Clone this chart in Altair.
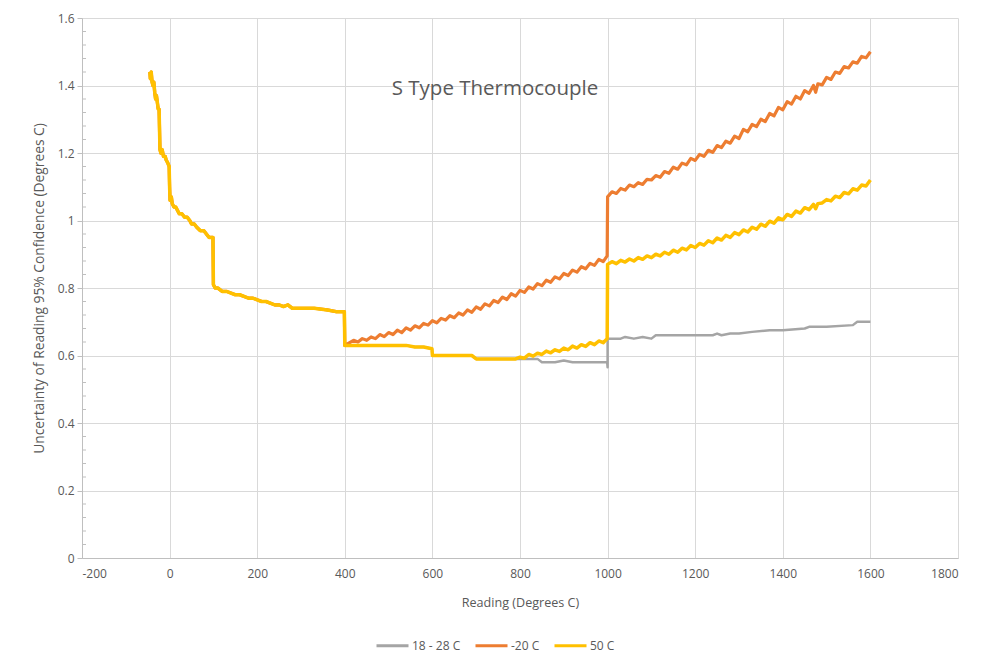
import altair as alt
import pandas as pd

# ---- data ----
series_names = ["18 - 28 C", "-20 C", "50 C"]
series_colors = ["#A5A5A5", "#ED7D31", "#FFC000"]

# 50 C series (full range); the other two coincide with it at low readings
y50_x = [-45, -44, -42, -40, -38, -36, -34, -32, -30, -28, -26, -24, -22, -20, -17, -14, -10, -8, -4, -1,
         0, 1, 4, 6, 10, 14, 18, 22, 28, 34, 40, 46, 50, 56, 62, 70, 78, 84, 90, 99,
         100, 104, 110, 120, 130, 140, 150, 160, 170, 180, 190, 200, 210, 220, 230, 240, 250, 260, 270, 280,
         300, 330, 360, 380, 399, 400, 450, 500, 540, 560, 580, 599, 600, 650, 690, 700, 740, 780,
         790, 800, 810, 820, 830, 840, 850, 860, 870, 880, 890, 900, 910, 920, 930, 940, 950, 960, 970, 980, 990, 999,
         1000, 1010, 1020, 1030, 1040, 1050, 1060, 1070, 1080, 1090, 1100, 1110, 1120, 1130, 1140, 1150, 1160, 1170,
         1180, 1190, 1200, 1210, 1220, 1230, 1240, 1250, 1260, 1270, 1280, 1290, 1300, 1310, 1320, 1330, 1340, 1350,
         1360, 1370, 1380, 1390, 1400, 1410, 1420, 1430, 1440, 1450, 1460, 1470, 1475, 1480, 1490, 1500, 1510, 1520,
         1530, 1540, 1550, 1560, 1570, 1580, 1590, 1600]
y50_v = [1.44, 1.42, 1.44, 1.41, 1.40, 1.41, 1.38, 1.36, 1.37, 1.35, 1.33, 1.33, 1.21, 1.20, 1.21, 1.19, 1.19, 1.18, 1.17, 1.16,
         1.10, 1.06, 1.07, 1.05, 1.04, 1.04, 1.03, 1.02, 1.02, 1.01, 1.01, 1.00, 0.99, 0.99, 0.98, 0.97, 0.97, 0.96, 0.95, 0.95,
         0.81, 0.80, 0.80, 0.79, 0.79, 0.785, 0.78, 0.78, 0.775, 0.77, 0.77, 0.765, 0.76, 0.76, 0.755, 0.75, 0.75, 0.745, 0.75, 0.74,
         0.74, 0.74, 0.735, 0.73, 0.73, 0.63, 0.63, 0.63, 0.63, 0.625, 0.625, 0.62, 0.60, 0.60, 0.60, 0.59, 0.59, 0.59,
         0.59, 0.595, 0.592, 0.603, 0.598, 0.607, 0.603, 0.613, 0.608, 0.617, 0.612, 0.622, 0.617, 0.628, 0.622, 0.632,
         0.627, 0.638, 0.632, 0.643, 0.638, 0.65,
         0.87, 0.878, 0.872, 0.882, 0.877, 0.886, 0.88, 0.89, 0.885, 0.895, 0.89, 0.90, 0.895, 0.906, 0.90, 0.912, 0.906, 0.918,
         0.913, 0.926, 0.92, 0.932, 0.927, 0.94, 0.934, 0.948, 0.942, 0.956, 0.95, 0.964, 0.958, 0.972, 0.966, 0.98, 0.974, 0.989,
         0.983, 0.998, 0.992, 1.008, 1.002, 1.018, 1.012, 1.028, 1.022, 1.038, 1.032, 1.048, 1.035, 1.05, 1.052, 1.062, 1.058, 1.072,
         1.068, 1.083, 1.079, 1.094, 1.09, 1.105, 1.102, 1.12]

# -20 C series, where it leaves the 50 C curve (from 400 upward)
m20_x = [400, 420, 430, 440, 450, 460, 470, 480, 490, 500, 510, 520, 530, 540, 550, 560, 570, 580, 590,
         600, 610, 620, 630, 640, 650, 660, 670, 680, 690, 700, 710, 720, 730, 740, 750, 760, 770, 780, 790,
         800, 810, 820, 830, 840, 850, 860, 870, 880, 890, 900, 910, 920, 930, 940, 950, 960, 970, 980, 990, 999,
         1000, 1010, 1020, 1030, 1040, 1050, 1060, 1070, 1080, 1090, 1100, 1110, 1120, 1130, 1140, 1150, 1160, 1170,
         1180, 1190, 1200, 1210, 1220, 1230, 1240, 1250, 1260, 1270, 1280, 1290, 1300, 1310, 1320, 1330, 1340, 1350,
         1360, 1370, 1380, 1390, 1400, 1410, 1420, 1430, 1440, 1450, 1460, 1470, 1475, 1480, 1490, 1500, 1510, 1520,
         1530, 1540, 1550, 1560, 1570, 1580, 1590, 1600]
m20_v = [0.63, 0.645, 0.640, 0.650, 0.645, 0.655, 0.650, 0.662, 0.656, 0.668, 0.662, 0.675, 0.668, 0.682, 0.675, 0.688, 0.682, 0.695, 0.690,
         0.703, 0.697, 0.710, 0.705, 0.718, 0.712, 0.726, 0.720, 0.735, 0.728, 0.744, 0.737, 0.753, 0.747, 0.763, 0.757, 0.773, 0.766, 0.783, 0.776,
         0.793, 0.787, 0.803, 0.797, 0.813, 0.807, 0.823, 0.817, 0.833, 0.827, 0.843, 0.837, 0.853, 0.847, 0.863, 0.857, 0.873, 0.867, 0.885, 0.878, 0.895,
         1.07, 1.085, 1.08, 1.095, 1.09, 1.105, 1.10, 1.112, 1.107, 1.122, 1.12, 1.133, 1.128, 1.145, 1.14, 1.158, 1.152, 1.17,
         1.165, 1.184, 1.178, 1.196, 1.19, 1.208, 1.202, 1.222, 1.216, 1.235, 1.229, 1.25, 1.243, 1.27, 1.263, 1.285, 1.278, 1.30,
         1.293, 1.317, 1.31, 1.335, 1.328, 1.352, 1.345, 1.368, 1.36, 1.385, 1.377, 1.40, 1.38, 1.405, 1.402, 1.424, 1.418, 1.44,
         1.436, 1.456, 1.452, 1.47, 1.466, 1.486, 1.482, 1.50]

# 18 - 28 C series, where it leaves the 50 C curve (from 800 upward)
r18_x = [800, 820, 840, 850, 880, 900, 920, 960, 999, 1000, 1000, 1030, 1040, 1060, 1080, 1100, 1110, 1200, 1240, 1250,
         1260, 1280, 1300, 1330, 1370, 1400, 1450, 1460, 1480, 1500, 1560, 1570, 1600]
r18_v = [0.59, 0.59, 0.59, 0.58, 0.58, 0.585, 0.58, 0.58, 0.58, 0.565, 0.65, 0.65, 0.655, 0.65, 0.655, 0.65, 0.66, 0.66, 0.66, 0.665,
         0.66, 0.665, 0.665, 0.67, 0.675, 0.675, 0.68, 0.685, 0.685, 0.685, 0.69, 0.70, 0.70]

x_ticks = [-200, 0, 200, 400, 600, 800, 1000, 1200, 1400, 1600, 1800]
y_ticks = [0, 0.2, 0.4, 0.6, 0.8, 1.0, 1.2, 1.4, 1.6]
y_minor = [0.04, 0.08, 0.12, 0.16, 0.24, 0.28, 0.32, 0.36, 0.44, 0.48, 0.52, 0.56, 0.64, 0.68, 0.72, 0.76,
           0.84, 0.88, 0.92, 0.96, 1.04, 1.08, 1.12, 1.16, 1.24, 1.28, 1.32, 1.36, 1.44, 1.48, 1.52, 1.56]

# ---- build table ----
rows = []
def add(name, xs, vs):
    for a, b in zip(xs, vs):
        rows.append({"series": name, "reading": a, "unc": b, "ord": len(rows)})

add("18 - 28 C", [a for a in y50_x if a < 800] + r18_x, [b for a, b in zip(y50_x, y50_v) if a < 800] + r18_v)
add("-20 C", [a for a in y50_x if a < 400] + m20_x, [b for a, b in zip(y50_x, y50_v) if a < 400] + m20_v)
add("50 C", y50_x, y50_v)
df = pd.DataFrame(rows)

FONT = "Open Sans"
GREY_TXT = "#595959"

xs = alt.X("reading:Q", scale=alt.Scale(domain=[-200, 1800], nice=False),
           axis=alt.Axis(values=x_ticks, title="Reading (Degrees C)", labelExpr="datum.value + ''",
                         grid=True, ticks=False, labelPadding=10, titlePadding=17, titleFontSize=12.6))
ys = alt.Y("unc:Q", scale=alt.Scale(domain=[0, 1.6], nice=False),
           axis=alt.Axis(values=y_ticks, format="~g", title="Uncertainty of Reading 95% Confidence (Degrees C)",
                         grid=True, tickSize=5, labelPadding=3, titlePadding=11, titleFontSize=13.8))
color = alt.Color("series:N", scale=alt.Scale(domain=series_names, range=series_colors),
                  legend=alt.Legend(title=None, orient="none", direction="horizontal", legendX=293, legendY=610,
                                    symbolType="stroke", symbolSize=1024, symbolStrokeWidth=3,
                                    labelFontSize=12, labelColor=GREY_TXT, labelFont=FONT, columnPadding=8,
                                    labelOffset=2, padding=0))

def layer(name, width):
    return alt.Chart(df).transform_filter(alt.datum.series == name).mark_line(
        strokeWidth=width, strokeJoin="round", interpolate="linear"
    ).encode(x=xs, y=ys, color=color, order="ord:Q")

minor = alt.Chart(pd.DataFrame({"v": y_minor})).mark_rule(color="#BFBFBF", strokeWidth=1).encode(
    x=alt.value(0), x2=alt.value(4), y=alt.Y("v:Q", scale=alt.Scale(domain=[0, 1.6], nice=False)))

chart = alt.layer(
    minor, layer("18 - 28 C", 2.5), layer("-20 C", 3.2), layer("50 C", 3.5)
).properties(
    width=876, height=540,
    title=alt.TitleParams("S Type Thermocouple", anchor="middle", dx=-25, dy=91, fontSize=20.5,
                          font=FONT, fontWeight="normal", color=GREY_TXT),
    autosize=alt.AutoSizeParams(type="none"),
    padding={"left": 74, "top": 10, "right": 25, "bottom": 104},
).configure_axis(
    labelFont=FONT, labelFontSize=12, labelColor=GREY_TXT,
    titleFont=FONT, titleFontWeight="normal", titleColor=GREY_TXT,
    gridColor="#D9D9D9", domainColor="#BFBFBF", tickColor="#BFBFBF"
).configure_view(stroke=None)

chart.save("out.html", embed_options={"renderer": "svg", "actions": False})
